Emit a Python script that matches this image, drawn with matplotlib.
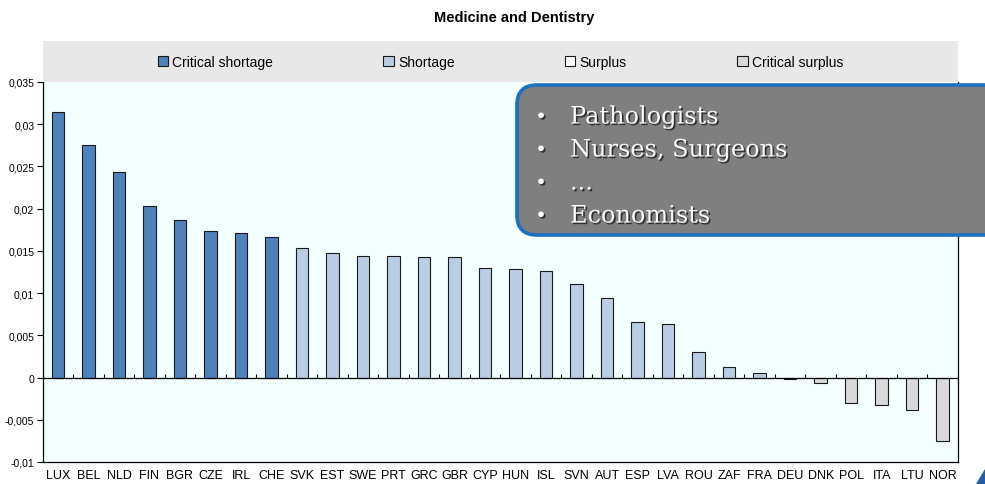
import matplotlib
matplotlib.use('Agg')
import matplotlib.pyplot as plt
import matplotlib.patheffects as pe
from matplotlib.patches import Patch, FancyBboxPatch, Polygon
from matplotlib.ticker import FuncFormatter
import numpy as np

# chart data
countries = ['LUX', 'BEL', 'NLD', 'FIN', 'BGR', 'CZE', 'IRL', 'CHE', 'SVK', 'EST',
             'SWE', 'PRT', 'GRC', 'GBR', 'CYP', 'HUN', 'ISL', 'SVN', 'AUT', 'ESP',
             'LVA', 'ROU', 'ZAF', 'FRA', 'DEU', 'DNK', 'POL', 'ITA', 'LTU', 'NOR']
values = [0.0315, 0.0275, 0.0244, 0.0203, 0.0187, 0.0174, 0.0171, 0.0166, 0.0154, 0.0147,
          0.0144, 0.0144, 0.0143, 0.0143, 0.0130, 0.0129, 0.0126, 0.0111, 0.0094, 0.0066,
          0.0063, 0.0030, 0.0013, 0.0005, -0.0002, -0.0006, -0.0030, -0.0033, -0.0039, -0.0075]
status = ['Critical shortage'] * 8 + ['Shortage'] * 16 + ['Critical surplus'] * 6
legend_labels = ['Critical shortage', 'Shortage', 'Surplus', 'Critical surplus']
y_ticks = [-0.01, -0.005, 0, 0.005, 0.01, 0.015, 0.02, 0.025, 0.03, 0.035]
box_items = ['Pathologists', 'Nurses, Surgeons', '...', 'Economists']

colors = {'Critical shortage': '#4F81BD', 'Shortage': '#B9CDE5',
          'Surplus': '#FFFFFF', 'Critical surplus': '#D9D9D9'}

plt.rcParams['font.family'] = ['Liberation Sans', 'DejaVu Sans']

W, H = 985, 485
fig = plt.figure(figsize=(W / 100, H / 100), dpi=100)
fig.patch.set_facecolor('white')

left, right, top, bottom = 42.7, 958, 83, 463
ax = fig.add_axes([left / W, 1 - bottom / H, (right - left) / W, (bottom - top) / H])
ax.set_facecolor('#F3FEFF')

x = np.arange(len(countries))
ax.bar(x, values, width=0.41, color=[colors[s] for s in status],
       edgecolor='#1a1a1a', linewidth=0.8, zorder=3)
ax.axhline(0, color='black', linewidth=0.9, zorder=4)
# small tick marks on the zero line between categories
bounds = np.arange(len(countries) + 1) - 0.5
ax.vlines(bounds[1:-1], 0, 0.00045, color='black', linewidth=0.8, zorder=4)

ax.set_xlim(-0.5, len(countries) - 0.5)
ax.set_ylim(-0.01, 0.035)
ax.set_xticks(x)
ax.set_xticklabels(countries, fontsize=9)
ax.tick_params(axis='x', length=0, pad=5)
ax.set_yticks(y_ticks)
ax.yaxis.set_major_formatter(FuncFormatter(lambda v, p: ('%g' % round(v, 3)).replace('.', ',')))
ax.tick_params(axis='y', length=4, width=0.8, labelsize=7.5, pad=2)
for side in ['left', 'bottom', 'right']:
    ax.spines[side].set_color('black')
    ax.spines[side].set_linewidth(0.9)
ax.spines['top'].set_visible(False)

# legend band above the plot
band = fig.add_axes([left / W, 1 - top / H, (right - left) / W, 41 / H])
band.set_facecolor('#E8E8E8')
band.set_xticks([])
band.set_yticks([])
for s in band.spines.values():
    s.set_visible(False)
handles = [Patch(facecolor=colors[l], edgecolor='#1a1a1a', linewidth=0.8) for l in legend_labels]
band.legend(handles, legend_labels, loc='center', ncol=4, frameon=False, fontsize=10,
            handlelength=0.75, handleheight=0.75, handletextpad=0.3, columnspacing=7.95,
            bbox_to_anchor=(0.5, 0.5))

fig.text(514 / W, 1 - 18 / H, 'Medicine and Dentistry', ha='center', va='center',
         fontsize=10.5, fontweight='bold')

# overlay in pixel coordinates for the callout box
ov = fig.add_axes([0, 0, 1, 1], facecolor='none')
ov.set_xlim(0, W)
ov.set_ylim(H, 0)
ov.axis('off')
box = FancyBboxPatch((517, 86), 500, 150, boxstyle='round,pad=0,rounding_size=20',
                     facecolor='#7F7F7F', edgecolor='#1C70C0', linewidth=2.6, zorder=5)
ov.add_patch(box)
shadow = [pe.withSimplePatchShadow(offset=(1.2, -1.2), shadow_rgbFace='black', alpha=0.6)]
for i, item in enumerate(box_items):
    yy = 118 + i * 33
    ov.text(541, yy, '\u2022', color='white', fontsize=14, va='center', ha='center',
            family='DejaVu Sans', zorder=6, path_effects=shadow)
    ov.text(570, yy, item, color='#F8F8F8', fontsize=17.3, va='center', ha='left',
            family='DejaVu Serif', zorder=6, path_effects=shadow)
ov.add_patch(Polygon([[976, 485], [985, 470], [985, 485]], closed=True,
                     facecolor='#1F5FA8', edgecolor='none'))

fig.savefig('out.png', dpi=100)
plt.close(fig)
